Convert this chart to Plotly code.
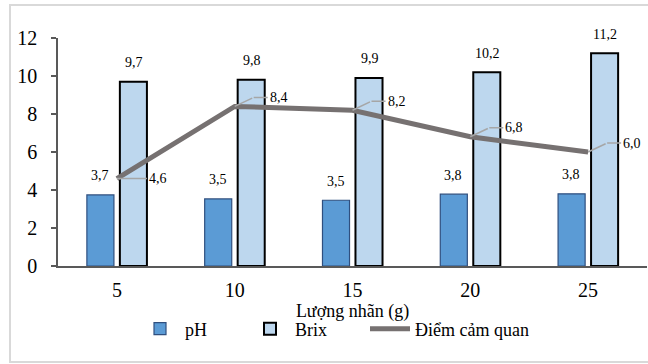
import plotly.graph_objects as go

categories = ["5", "10", "15", "20", "25"]
ph_values = [3.74, 3.53, 3.46, 3.78, 3.8]
brix_values = [9.7, 9.8, 9.9, 10.2, 11.2]
sensory_values = [4.6, 8.4, 8.2, 6.8, 6.0]
y_ticks = [0, 2, 4, 6, 8, 10, 12]

FONT = "Liberation Serif, Times New Roman, serif"


def fmt(v):
    return f"{v:.1f}".replace(".", ",")


fig = go.Figure()
fig.add_trace(go.Bar(
    x=categories, y=ph_values, name="pH", legend="legend",
    marker=dict(color="#5B9BD5", line=dict(color="#2F4F7F", width=1.2)),
))
fig.add_trace(go.Bar(
    x=categories, y=brix_values, name="Brix", legend="legend2",
    marker=dict(color="#BDD7EE", line=dict(color="#000000", width=2)),
))
fig.add_trace(go.Scatter(
    x=categories, y=sensory_values, name="Điểm cảm quan", mode="lines", legend="legend3",
    line=dict(color="#767171", width=5),
))

lab_font = dict(family=FONT, size=14, color="#000")
annotations = []
for i, v in enumerate(ph_values):
    annotations.append(dict(x=i, y=v, text=fmt(v), showarrow=False, xshift=-17,
                            yshift=19, font=lab_font))
for i, v in enumerate(brix_values):
    annotations.append(dict(x=i, y=v, text=fmt(v), showarrow=False, xshift=17,
                            yshift=19, font=lab_font))

lead_color = "#A6A6A6"
for i, v in enumerate(sensory_values):
    if i == 0:
        annotations.append(dict(x=i, y=v, text=fmt(v), showarrow=True, ax=30, ay=0,
                                xanchor="left", arrowhead=0, arrowwidth=1.5,
                                arrowcolor=lead_color, standoff=0, font=lab_font))
    else:
        annotations.append(dict(x=i, y=v, text="", showarrow=True, ax=19, ay=-9,
                                arrowhead=0, arrowwidth=1.5, arrowcolor=lead_color,
                                standoff=0))
        annotations.append(dict(x=i, y=v, text=fmt(v), showarrow=True, xshift=19, yshift=9,
                                ax=14, ay=0, xanchor="left", arrowhead=0, arrowwidth=1.5,
                                arrowcolor=lead_color, standoff=0, font=lab_font))

W, H = 648, 364
ml, mr, mt, mb = 58, 1, 38, 98
pw, ph = W - ml - mr, H - mt - mb


def px_x(x):
    return (x - ml) / pw


def px_y(y):
    return (H - mb - y) / ph


def legend_at(text_left):
    return dict(orientation="h", x=px_x(text_left - 50), xanchor="left",
                y=px_y(329), yanchor="middle",
                font=dict(family=FONT, size=18, color="#000"),
                bgcolor="rgba(0,0,0,0)", itemwidth=40)


fig.update_layout(
    width=W, height=H,
    margin=dict(l=ml, r=mr, t=mt, b=mb),
    paper_bgcolor="white", plot_bgcolor="white",
    barmode="group", bargap=0.44, bargroupgap=0.18,
    font=dict(family=FONT, color="#000"),
    showlegend=True,
    legend=legend_at(185),
    legend2=legend_at(295),
    legend3=legend_at(415),
    annotations=annotations,
    shapes=[dict(type="rect", xref="paper", yref="paper",
                 x0=px_x(10), x1=px_x(662), y0=px_y(362), y1=px_y(5),
                 line=dict(color="#D9D9D9", width=2), layer="below")],
    xaxis=dict(type="category", range=[-0.5, len(categories) - 0.5],
               showline=True, linecolor="#595959", linewidth=1.5,
               ticks="", showgrid=False, tickfont=dict(family=FONT, size=20, color="#000"),
               ticklabelstandoff=5,
               title=dict(text="Lượng nhãn (g)", font=dict(family=FONT, size=18, color="#000"),
                          standoff=0)),
    yaxis=dict(range=[0, 12], tickvals=y_ticks, showline=True, linecolor="#595959",
               linewidth=1.5, ticks="outside", ticklen=5, tickcolor="#595959", tickwidth=1.5,
               showgrid=False, zeroline=False, tickfont=dict(family=FONT, size=20, color="#000"),
               ticklabelstandoff=10),
)

fig.write_html("out.html", config={"displayModeBar": False},
               post_script="document.body.style.margin='0';")
